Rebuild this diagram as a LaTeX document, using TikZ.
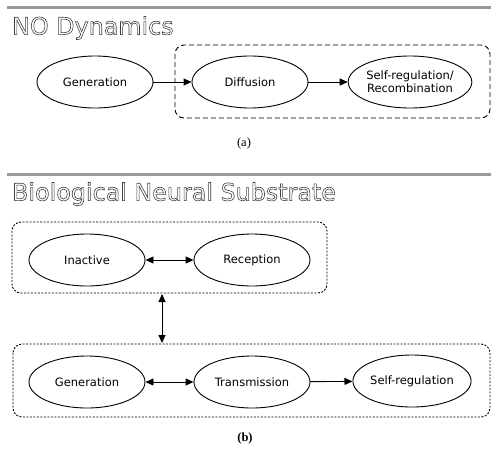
\documentclass[tikz,border=0pt]{standalone}
\usepackage{fontspec}
\setmainfont{Liberation Serif}
\newfontfamily\dvs{DejaVu Sans}
\usetikzlibrary{shapes.geometric,arrows.meta}
\newcommand{\outlinetext}[1]{\special{pdf:literal direct q 1 Tr 0.6 w 0.25 G}#1\special{pdf:literal direct Q}}
\begin{document}
\begin{tikzpicture}[x=1pt,y=-1pt,
  ell/.style={ellipse,draw,line width=0.9pt,minimum width=116pt,minimum height=52pt,inner sep=0pt,font=\dvs\fontsize{11.5}{13}\selectfont,align=center},
  rulebar/.style={line width=3pt,draw=black!40},
  titletext/.style={anchor=west,inner sep=0pt,font=\dvs\fontsize{23.8}{26}\selectfont},
  grp/.style={draw,rounded corners=9pt,line width=0.9pt},
  arr/.style={-{Triangle[length=8pt,width=7pt]},line width=0.9pt},
  darr/.style={{Triangle[length=8pt,width=7pt]}-{Triangle[length=8pt,width=7pt]},line width=0.9pt},
  captext/.style={inner sep=0pt,font=\fontsize{12.5}{14}\selectfont}]
\useasboundingbox (0,0) rectangle (502,453);
% (a)
\draw[rulebar] (7,7) -- (491,7);
\node[titletext] (t1) at (12,28) {\outlinetext{NO Dynamics}};
\draw[grp,dash pattern=on 5pt off 3pt] (175,45) rectangle (490,118);
\node[ell] (gen) at (95,82) {Generation};
\node[ell] (dif) at (250,82) {Diffusion};
\node[ell] (self) at (410,82) {Self-regulation/\\Recombination};
\draw[arr] (gen) -- (dif);
\draw[arr] (dif) -- (self);
\node[captext] (ca) at (244,143) {(a)};
% (b)
\draw[rulebar] (7,174) -- (491,174);
\node[titletext] (t2) at (12,194) {\outlinetext{Biological Neural Substrate}};
\draw[grp,dash pattern=on 2pt off 1.5pt] (12,222) rectangle (327,293);
\coordinate (topbox) at (162,294);
\node[ell] (ina) at (87,260) {Inactive};
\node[ell] (rec) at (252,260) {Reception};
\draw[darr] (ina) -- (rec);
\draw[grp,dash pattern=on 2pt off 1.5pt] (13,344) rectangle (490,417);
\coordinate (botbox) at (162,343);
\node[ell] (gen2) at (87,382) {Generation};
\node[ell] (tra) at (252,382) {Transmission};
\node[ell] (self2) at (412,381) {Self-regulation};
\draw[darr] (gen2) -- (tra);
\draw[arr] (tra) -- (self2);
\draw[darr] (topbox) -- (botbox);
\node[captext,font=\bfseries\fontsize{12.5}{14}\selectfont] (cb) at (245,438) {(b)};
\end{tikzpicture}
\end{document}
